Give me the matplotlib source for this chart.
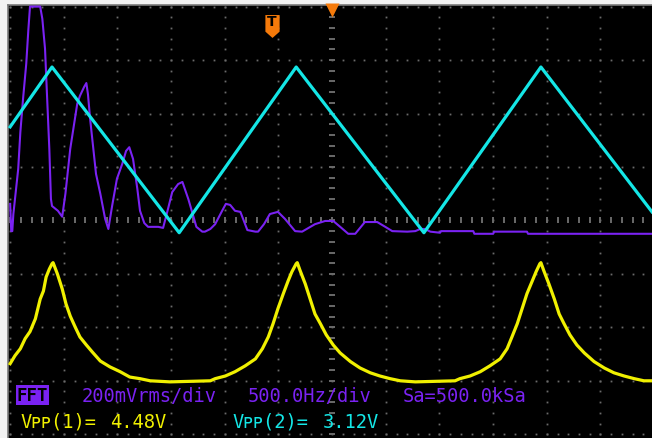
import numpy as np
import matplotlib
matplotlib.use("Agg")
import matplotlib.pyplot as plt
from matplotlib.path import Path

# screen units: divisions from screen centre (12 x 8 div)
# CH1 (yellow), 2 V/div
ch1_x = [-6.00, -5.91, -5.81, -5.72, -5.63, -5.53, -5.44, -5.38, -5.33, -5.27, -5.22, -5.20,
         -5.12, -5.03, -4.96, -4.88, -4.79, -4.70, -4.58, -4.47, -4.32, -4.14, -3.95, -3.77,
         -3.58, -3.39, -3.02, -2.27, -2.18, -1.99, -1.81, -1.62, -1.43, -1.30, -1.19, -1.10,
         -1.01, -0.91, -0.82, -0.75, -0.67, -0.65, -0.60, -0.50, -0.41, -0.32, -0.22, -0.11,
         0.02, 0.15, 0.34, 0.52, 0.71, 0.89, 1.08, 1.27, 1.55, 2.29, 2.38, 2.57, 2.76, 2.94,
         3.13, 3.26, 3.35, 3.45, 3.54, 3.63, 3.73, 3.80, 3.87, 3.89, 3.94, 4.04, 4.14, 4.23,
         4.32, 4.43, 4.56, 4.70, 4.88, 5.07, 5.25, 5.44, 5.63, 5.81, 5.96]
ch1_y = [-2.68, -2.53, -2.40, -2.21, -2.08, -1.84, -1.47, -1.32, -1.06, -0.91, -0.81, -0.79,
         -1.00, -1.28, -1.56, -1.79, -1.99, -2.18, -2.33, -2.46, -2.63, -2.74, -2.83, -2.93,
         -2.96, -3.00, -3.02, -3.00, -2.96, -2.91, -2.83, -2.72, -2.59, -2.40, -2.18, -1.93,
         -1.65, -1.37, -1.13, -0.96, -0.81, -0.79, -0.93, -1.19, -1.47, -1.75, -1.93, -2.14,
         -2.33, -2.48, -2.64, -2.76, -2.85, -2.91, -2.96, -3.00, -3.02, -3.00, -2.96, -2.91,
         -2.83, -2.72, -2.59, -2.40, -2.18, -1.93, -1.65, -1.37, -1.13, -0.96, -0.81, -0.79,
         -0.93, -1.19, -1.47, -1.75, -1.93, -2.14, -2.33, -2.48, -2.64, -2.76, -2.85, -2.91,
         -2.96, -3.00, -3.00]

# CH2 (cyan) triangle, 1 V/div
ch2_x = [-6.00, -5.22, -2.85, -0.67, 1.71, 3.89, 5.96]
ch2_y = [1.75, 2.87, -0.23, 2.87, -0.23, 2.87, 0.16]

# FFT (purple), 500 Hz/div, 200 mVrms/div
fft_x = [-6.00, -5.98, -5.96, -5.94, -5.91, -5.85, -5.81, -5.76, -5.70, -5.66, -5.63, -5.44,
         -5.40, -5.35, -5.31, -5.27, -5.24, -5.22, -5.11, -5.03, -4.97, -4.88, -4.75, -4.70,
         -4.62, -4.58, -4.55, -4.51, -4.45, -4.40, -4.32, -4.23, -4.17, -4.10, -4.01, -3.91,
         -3.84, -3.78, -3.71, -3.63, -3.58, -3.50, -3.43, -3.24, -3.15, -3.06, -2.98, -2.87,
         -2.79, -2.68, -2.61, -2.53, -2.42, -2.37, -2.27, -2.18, -2.05, -1.98, -1.90, -1.81,
         -1.71, -1.66, -1.58, -1.43, -1.38, -1.27, -1.16, -1.01, -0.88, -0.69, -0.56, -0.32,
         -0.13, 0.02, 0.15, 0.30, 0.43, 0.61, 0.84, 0.99, 1.12, 1.40, 1.55, 1.64, 1.73, 1.83,
         2.01, 2.03, 2.63, 2.65, 3.00, 3.02, 3.63, 3.65, 5.96]
fft_y = [0.31, -0.20, -0.20, 0.12, 0.40, 0.96, 1.65, 2.27, 2.93, 3.58, 4.00, 4.00,
         3.77, 3.21, 2.27, 1.34, 0.40, 0.27, 0.18, 0.07, 0.50, 1.34, 2.18, 2.33,
         2.50, 2.57, 2.36, 1.90, 1.34, 0.87, 0.50, 0.03, -0.16, 0.27, 0.78, 1.06,
         1.30, 1.37, 1.15, 0.59, 0.18, -0.05, -0.12, -0.12, -0.14, 0.21, 0.53, 0.68,
         0.72, 0.40, 0.16, -0.12, -0.21, -0.21, -0.16, -0.07, 0.18, 0.31, 0.29, 0.18,
         0.16, 0.03, -0.18, -0.21, -0.21, -0.07, 0.12, 0.16, 0.03, -0.20, -0.21, -0.07,
         -0.01, -0.01, -0.12, -0.25, -0.25, -0.03, -0.03, -0.12, -0.20, -0.21, -0.20, -0.16,
         -0.16, -0.21, -0.23, -0.20, -0.20, -0.25, -0.25, -0.21, -0.21, -0.25, -0.25]

fft_info = ["200mVrms/div", "500.0Hz/div", "Sa=500.0kSa"]
vpp_labels = ["V\u1d18\u1d18(1)=", "V\u1d18\u1d18(2)="]
vpp_values = ["4.48V", "3.12V"]

YELLOW = "#f0f000"
CYAN = "#14e6e6"
PURPLE = "#7a22f2"
ORANGE = "#f57a0a"
GRID = "#6a6a6a"

fig = plt.figure(figsize=(6.52, 4.39), dpi=100, facecolor="#f2f2f2")
ax = fig.add_axes([8 / 652, 0, 644 / 652, 433 / 439])
ax.set_facecolor("black")
ax.set_xlim(-6.04, 5.96)
ax.set_ylim(-4.07, 4.03)
ax.set_xticks([])
ax.set_yticks([])
for s in ["right", "bottom"]:
    ax.spines[s].set_visible(False)
for s in ["left", "top"]:
    ax.spines[s].set_color("#7a7a7a")
    ax.spines[s].set_linewidth(1.2)

# graticule: dotted lines every division, dashes on centre lines
fine_y = np.arange(-4, 4.01, 0.2)
fine_x = np.arange(-6, 6.01, 0.2)
for k in range(-6, 7):
    if k == 0:
        continue
    ax.plot(np.full_like(fine_y, k), fine_y, ls="none", marker="s", ms=1.3,
            mec="none", mfc=GRID, zorder=1)
for k in range(-4, 5):
    if k == 0:
        continue
    ax.plot(fine_x, np.full_like(fine_x, k), ls="none", marker="s", ms=1.3,
            mec="none", mfc=GRID, zorder=1)
ax.plot(np.zeros_like(fine_y), fine_y, ls="none", marker="_", ms=4.5, mew=1.4,
        color=GRID, zorder=1)
ax.plot(fine_x, np.zeros_like(fine_x), ls="none", marker="|", ms=4.5, mew=1.4,
        color=GRID, zorder=1)

# traces
ax.plot(ch1_x, ch1_y, color=YELLOW, lw=2.3, zorder=3)
ax.plot(fft_x, fft_y, color=PURPLE, lw=1.5, zorder=4)
ax.plot(ch2_x, ch2_y, color=CYAN, lw=2.3, zorder=5)

# trigger markers
tag = Path([(-0.62, 1), (0.62, 1), (0.62, -0.45), (0, -1), (-0.62, -0.45), (-0.62, 1)],
           [Path.MOVETO, Path.LINETO, Path.LINETO, Path.LINETO, Path.LINETO, Path.CLOSEPOLY])
ax.plot([-1.12], [3.64], marker=tag, ms=16.5, mec="none", mfc=ORANGE, zorder=6)
ax.text(-1.12, 3.73, "T", color="black", fontsize=10, fontweight="bold",
        ha="center", va="center", family="DejaVu Sans", zorder=7)
ax.plot([0], [3.94], marker="v", ms=10.5, mec="none", mfc=ORANGE, zorder=6, clip_on=False)

# status text
mono = ["DejaVu Sans Mono", "DejaVu Sans", "Noto Sans", "Liberation Sans", "Roboto",
        "Open Sans", "Lato", "Inter", "Noto Sans CJK JP"]
fig.text(17 / 652, 1 - 401 / 439, "FFT", color="black", fontsize=12.5, family=mono,
         fontweight="bold", va="baseline",
         bbox=dict(boxstyle="square,pad=0.05", fc=PURPLE, ec="none"))
for txt, xp in zip(fft_info, [82, 248, 403]):
    fig.text(xp / 652, 1 - 402 / 439, txt, color=PURPLE, fontsize=13.5, family=mono,
             va="baseline")
for lab, val, xl, xv, c in zip(vpp_labels, vpp_values, [20, 232], [110, 323], [YELLOW, CYAN]):
    fig.text(xl / 652, 1 - 428 / 439, lab, color=c, fontsize=13.5, family=mono, va="baseline")
    fig.text(xv / 652, 1 - 428 / 439, val, color=c, fontsize=13.5, family=mono, va="baseline")

fig.savefig("out.png", dpi=100, facecolor=fig.get_facecolor())
